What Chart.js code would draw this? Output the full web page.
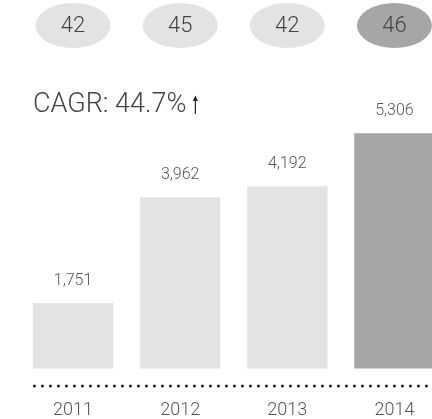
<!DOCTYPE html>
<html>
<head>
<meta charset="utf-8">
<script src="https://cdn.jsdelivr.net/npm/chart.js@4/dist/chart.umd.min.js"></script>
<style>
  html, body { margin: 0; padding: 0; background: #fff; overflow: hidden; }
  #wrap { width: 432px; height: 419px; overflow: hidden; position: relative; }
  canvas { display: block; }
</style>
</head>
<body>
<div id="wrap"><canvas id="c" width="448" height="452"></canvas></div>
<script>
const years = ['2011', '2012', '2013', '2014'];
const values = [1751, 3962, 4192, 5306];
const topBadges = [42, 45, 42, 46];
const barColors = ['#e3e3e3', '#e3e3e3', '#e3e3e3', '#a6a6a6'];
const cagrText = 'CAGR: 44.7%';

const FONT = "'Roboto', 'Lato', 'Liberation Sans', sans-serif";

const decor = {
  id: 'decor',
  afterDatasetsDraw(chart) {
    const ctx = chart.ctx;
    const meta = chart.getDatasetMeta(0);
    const xs = chart.scales.x;
    ctx.save();
    // badges
    topBadges.forEach((v, i) => {
      const x = xs.getPixelForValue(i);
      ctx.beginPath();
      ctx.ellipse(x, 25.5, 37.5, 22.5, 0, 0, Math.PI * 2);
      ctx.fillStyle = barColors[i];
      ctx.fill();
      ctx.fillStyle = '#444';
      ctx.font = '300 22px ' + FONT;
      ctx.textAlign = 'center';
      ctx.textBaseline = 'middle';
      ctx.fillText(String(v), x, 26);
    });
    // value labels
    meta.data.forEach((bar, i) => {
      ctx.fillStyle = '#555';
      ctx.font = '300 16px ' + FONT;
      ctx.textAlign = 'center';
      ctx.textBaseline = 'middle';
      ctx.fillText(values[i].toLocaleString('en-US'), bar.x, bar.y - 22);
    });
    // CAGR
    const left = meta.data[0].x - meta.data[0].width / 2;
    ctx.fillStyle = '#444';
    ctx.font = '300 27px ' + FONT;
    ctx.textAlign = 'left';
    ctx.textBaseline = 'middle';
    ctx.fillText(cagrText, left, 105);
    const tw = ctx.measureText(cagrText).width;
    // arrow
    const ax = left + tw + 9;
    ctx.strokeStyle = '#222';
    ctx.fillStyle = '#222';
    ctx.lineWidth = 1.2;
    ctx.beginPath();
    ctx.moveTo(ax, 114);
    ctx.lineTo(ax, 99);
    ctx.stroke();
    ctx.beginPath();
    ctx.moveTo(ax - 2.5, 101);
    ctx.lineTo(ax, 95.5);
    ctx.lineTo(ax + 2.5, 101);
    ctx.closePath();
    ctx.fill();
    // dotted baseline
    ctx.strokeStyle = '#222';
    ctx.lineWidth = 3;
    ctx.lineCap = 'round';
    ctx.setLineDash([0, 8]);
    ctx.beginPath();
    ctx.moveTo(left + 1.5, 386);
    ctx.lineTo(chart.width, 386);
    ctx.stroke();
    ctx.restore();
  }
};

new Chart(document.getElementById('c'), {
  type: 'bar',
  data: {
    labels: years,
    datasets: [{
      data: values,
      backgroundColor: barColors,
      borderWidth: 0,
      barPercentage: 0.75,
      categoryPercentage: 1.0
    }]
  },
  options: {
    responsive: false,
    animation: false,
    layout: { padding: { left: 19.5, right: 0, top: 100, bottom: 0 } },
    plugins: { legend: { display: false }, tooltip: { enabled: false } },
    scales: {
      x: {
        grid: { display: false, drawTicks: false },
        border: { display: false },
        ticks: {
          padding: 31,
          color: '#555',
          font: { family: FONT, size: 18, weight: '300' }
        }
      },
      y: {
        display: false,
        min: 380,
        max: 6000
      }
    }
  },
  plugins: [decor]
});
</script>
</body>
</html>
